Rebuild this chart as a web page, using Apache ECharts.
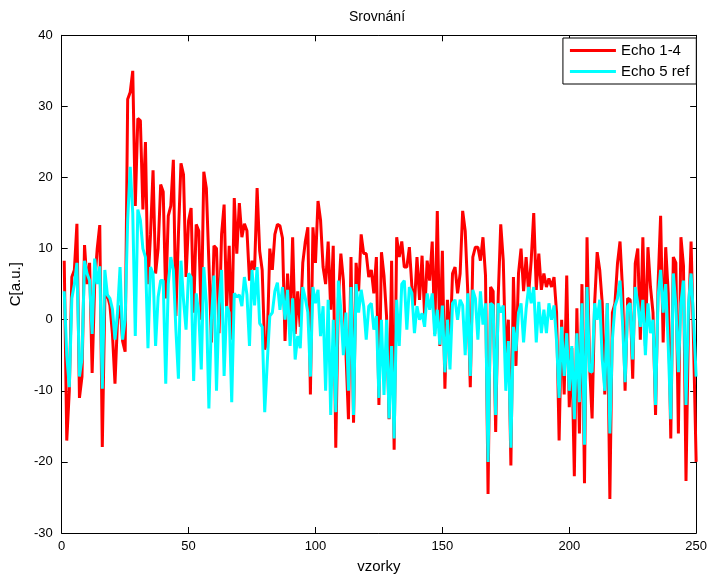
<!DOCTYPE html>
<html>
<head>
<meta charset="utf-8">
<script src="https://cdn.jsdelivr.net/npm/echarts@6/dist/echarts.min.js"></script>
<style>
html,body{margin:0;padding:0;background:#fff;}
#chart{width:710px;height:579px;}
</style>
</head>
<body>
<div id="chart"></div>
<script>
// Sample indices (vzorky)
var samples = [];
for (var k = 1; k <= 250; k++) samples.push(k);

// Echo 1-4 (red)
var echo14 = [
8.3,-17,-10,6,7,13.5,-11,-8,10.5,5,
8,-7.5,5,10,13.3,-17.9,3,3.5,2,-2,
-9,0,2,-3,-4.5,31,32,35,16,28.3,
28,15.5,25,5,12,21,6.5,10,19,18,
3,14.6,16,22.5,0.5,12,22,20.4,6,13.9,
15.7,1,13.4,12.5,0,20.8,18.5,8,-3.2,10.4,
10,-1.9,12,16.2,1.4,10.4,-2.8,17.1,9.3,16.4,
11.6,13.5,12.5,5.5,8.3,7,18.5,9.7,7,-4.2,
-3,10,7,12,13.4,13.2,11.5,-3,6.5,-1,
11.6,-2,4,-1,8,11,13,-10.5,13,8,
16.7,14,7.4,5,11,1.4,10.4,-18,2.8,9.3,
5.5,-4.6,-14,8.8,-14.5,8,4,12,9.3,9.3,
6,7,3.7,8.8,-12,9.5,6.2,0.5,-14,8.3,
-18.3,11.6,8.8,11,7.4,7.4,10.2,4.6,2,8.8,
2.8,9,0.5,8.3,5.5,11,-2,15.3,-3.7,9.7,
-9.7,2.8,-3.7,6.5,7.4,3.7,6.5,15.3,12.5,4,
-9.5,8.8,10.2,10.2,8.3,11.6,6.2,-24.5,4.6,4,
-15.8,3.2,13.4,8.3,-6,0,-20.5,6,-6.5,6.5,
10,4,8.8,3.7,8.3,15,4.2,9.3,4.2,6.5,
4.6,5.8,4.6,6,1,-17,0,-10.5,6.2,-12.3,
-4,-22,1.6,-16,5,-23,11.6,-6.5,-13.9,2.3,
9.5,7,2.3,-10.5,2.3,-25.2,1,2.3,7.9,11,
4.2,-10,3,2.8,-8.3,7.9,10,-2.8,11.6,-3.7,
10.2,4.6,1,-13.4,5,14.6,-3.2,10.2,3.7,-16.7,
8.8,8,-16,11.6,7.6,-22.7,0,11,-3.7,-20
];

// Echo 5 ref (cyan)
var echo5 = [
4,-5,-9.5,3,5,8,-8,-5.5,8.3,6.5,
5.5,-2,8.6,5,7.5,-9.7,7,3.5,3,1.5,
-2.8,1,7.4,-2.8,0,14,21.5,15,-2.3,15.5,
14,10,8.8,-4,7.4,6.5,-3.7,3.2,5.5,5.5,
-9,5,8.8,7,-1.4,-8.3,8.3,2.8,-1.4,6.5,
6,-8.6,3.7,1,-7,7.4,2.3,-12.5,0,6.2,
-10,2,7,-7.9,1.9,1,-11.6,3.7,3.2,3.5,
1.9,6,3.5,-3.7,7,2,7.4,-0.5,-1,-13,
-6,0.5,1,4,5.2,1.4,4.6,0,4.2,-3.7,
3,-5.6,-2.3,-4,4.6,3,1,-8,4.6,2.3,
4.2,-2.3,1.9,-10,2.8,-13.4,0,-13,5.5,1.4,
-5,1,-10,4.6,-13.4,5,1,4.2,1.9,-2.8,
1.9,2.3,-1.4,0.5,-11,0,-10.6,0,-13.9,-3.7,
-16.7,2.8,-3.7,5,5.5,-1.4,4.6,3.7,-1.9,1.9,
0,0.9,-1,3.7,1.4,3.7,-2.3,1.4,-3.5,2,
-7.4,0,-7,2.3,2.8,0,2.8,2,-5,3.7,
-7.9,4.2,3,-2.8,4,-0.7,2.3,-20,2.3,2,
-13.4,2.3,1,2,-10,-3,-18,-1,-4.4,1,
2.3,-3.2,1.5,4.6,2.3,4.6,-3.2,2.5,-1.9,1.4,
-1.9,2.3,0,2,-3,-11,-1,-7.9,-1.9,-10,
-3.7,-14,-1.9,-11.6,2.3,-17.6,4.6,-7.2,-7.4,2.3,
0,2.8,-5.6,-10,2.3,-16,-2.8,1.9,3,5.5,
-0.5,-8.8,1.9,2.3,-5.6,4.6,2.3,-1,2.8,-5,
2.3,-1.9,0,-12,3.2,7,1,5,-3.7,-14,
6.5,2,-7.4,2.3,5.5,-12,2.3,6.5,0,-8
];

var xTicks = [0, 250, 50];   // min, max, interval
var yTicks = [-30, 40, 10];  // min, max, interval

function pairs(vals) {
  return vals.map(function (v, i) { return [samples[i], v]; });
}

var chart = echarts.init(document.getElementById('chart'), null, {renderer: 'canvas'});
var FONT = 'Liberation Sans, Arial, Helvetica, sans-serif';
function axisBase(extra) {
  var base = {
    axisLine: {show: true, onZero: false, lineStyle: {color: '#000', width: 1}},
    axisTick: {show: true, inside: true, length: 6, lineStyle: {color: '#000'}},
    splitLine: {show: false},
    axisLabel: {color: '#000', fontSize: 13, fontFamily: FONT}
  };
  return Object.assign(base, extra);
}
chart.setOption({
  animation: false,
  backgroundColor: '#fff',
  textStyle: {fontFamily: FONT},
  title: {
    text: 'Srovnání',
    left: 344,
    top: 5,
    textStyle: {fontSize: 14, fontWeight: 'normal', color: '#000', fontFamily: FONT}
  },
  grid: {left: 58.7, right: 13.7, top: 35.3, bottom: 39.7, containLabel: false},
  legend: {
    orient: 'vertical',
    right: 13.7,
    top: 38,
    padding: [5, 7, 5, 7],
    itemGap: 6,
    itemWidth: 46,
    itemHeight: 3,
    icon: 'rect',
    borderColor: '#000',
    borderWidth: 1,
    backgroundColor: '#fff',
    textStyle: {fontSize: 15, color: '#000', fontFamily: FONT},
    data: ['Echo 1-4', 'Echo 5 ref']
  },
  xAxis: [
    axisBase({
      type: 'value', min: xTicks[0], max: xTicks[1], interval: xTicks[2],
      position: 'bottom',
      name: 'vzorky', nameLocation: 'middle', nameGap: 26,
      nameTextStyle: {color: '#000', fontSize: 15, fontFamily: FONT},
      axisLabel: {color: '#000', fontSize: 13, fontFamily: FONT, margin: 7}
    }),
    axisBase({
      type: 'value', min: xTicks[0], max: xTicks[1], interval: xTicks[2],
      position: 'top', axisLabel: {show: false}
    })
  ],
  yAxis: [
    axisBase({
      type: 'value', min: yTicks[0], max: yTicks[1], interval: yTicks[2],
      position: 'left',
      name: 'C[a.u.]', nameLocation: 'middle', nameGap: 38, nameRotate: 90,
      nameTextStyle: {color: '#000', fontSize: 15, fontFamily: FONT},
      axisLabel: {color: '#000', fontSize: 13, fontFamily: FONT, margin: 9}
    }),
    axisBase({
      type: 'value', min: yTicks[0], max: yTicks[1], interval: yTicks[2],
      position: 'right', axisLabel: {show: false}
    })
  ],
  series: [
    {
      name: 'Echo 1-4', type: 'line', xAxisIndex: 0, yAxisIndex: 0,
      data: pairs(echo14), showSymbol: false, symbol: 'none',
      color: '#ff0000', lineStyle: {color: '#ff0000', width: 3}
    },
    {
      name: 'Echo 5 ref', type: 'line', xAxisIndex: 0, yAxisIndex: 0,
      data: pairs(echo5), showSymbol: false, symbol: 'none',
      color: '#00ffff', lineStyle: {color: '#00ffff', width: 3}
    }
  ]
});
</script>
</body>
</html>
